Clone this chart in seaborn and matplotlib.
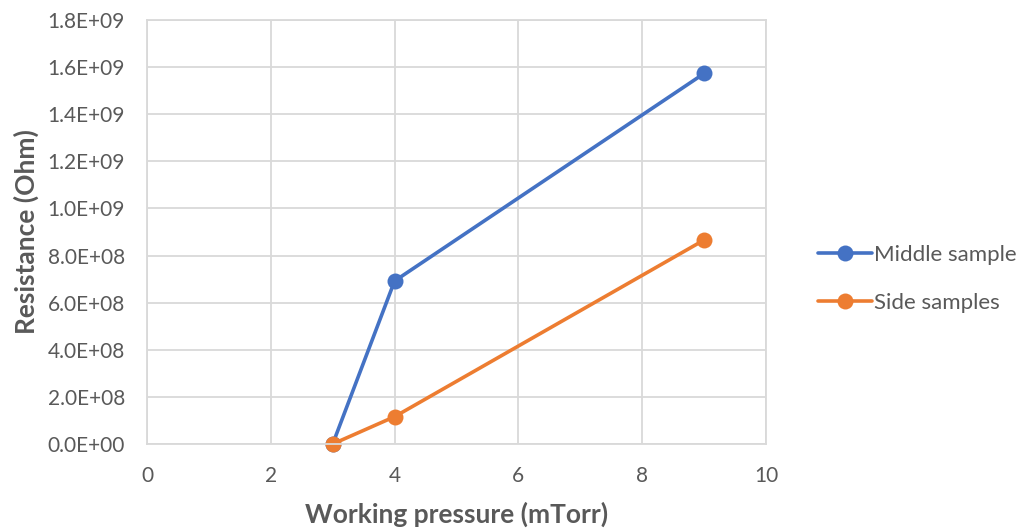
import matplotlib
matplotlib.use("Agg")
import matplotlib.pyplot as plt
import seaborn as sns
import pandas as pd

pressure = [3, 4, 9]
middle_sample = [0.0, 6.92e8, 1.573e9]
side_samples = [0.0, 1.16e8, 8.66e8]
series_names = ["Middle sample", "Side samples"]
x_ticks = [0, 2, 4, 6, 8, 10]
y_ticks = [0, 2e8, 4e8, 6e8, 8e8, 1.0e9, 1.2e9, 1.4e9, 1.6e9, 1.8e9]

df = pd.DataFrame({
    "pressure": pressure * 2,
    "resistance": middle_sample + side_samples,
    "series": [series_names[0]] * len(pressure) + [series_names[1]] * len(pressure),
})

sns.set_style("white")
plt.rcParams["font.family"] = ["Lato", "DejaVu Sans"]

text_color = "#595959"
grid_color = "#D9D9D9"

fig = plt.figure(figsize=(10.24, 5.32), dpi=100)
ax = fig.add_axes([147/1024, 88/532, (766-147)/1024, (444-20)/532])

sns.lineplot(data=df, x="pressure", y="resistance", hue="series",
             palette=["#4472C4", "#ED7D31"], marker="o", markersize=11.5,
             markeredgewidth=0, linewidth=2.6, ax=ax, legend=True)
for line in ax.get_lines():
    line.set_clip_on(False)

ax.set_xlim(0, 10)
ax.set_ylim(0, 1.8e9)
ax.set_xticks(x_ticks)
ax.set_yticks(y_ticks)
ax.set_xticklabels([str(t) for t in x_ticks])
ax.set_yticklabels([f"{v:.1E}" for v in y_ticks])
ax.tick_params(axis="both", colors=text_color, labelsize=15, length=0)
ax.tick_params(axis="x", pad=16)
ax.tick_params(axis="y", pad=16)
ax.grid(True, color=grid_color, linewidth=1.3)
ax.set_axisbelow(True)
for s in ax.spines.values():
    s.set_color(grid_color)
    s.set_linewidth(1.3)

ax.set_xlabel("Working pressure (mTorr)", fontsize=19, fontweight="bold",
              color=text_color, labelpad=11)
ax.set_ylabel("Resistance (Ohm)", fontsize=19, fontweight="bold",
              color=text_color, labelpad=6)

leg = ax.legend(loc="center left", bbox_to_anchor=(1.052, 0.39), frameon=False,
                fontsize=16, handlelength=2.4, handletextpad=0.1, labelspacing=1.25)
for t in leg.get_texts():
    t.set_color(text_color)
for h in leg.legend_handles:
    h.set_markersize(11.5)
    h.set_linewidth(2.6)

fig.savefig("out.png", dpi=100)
